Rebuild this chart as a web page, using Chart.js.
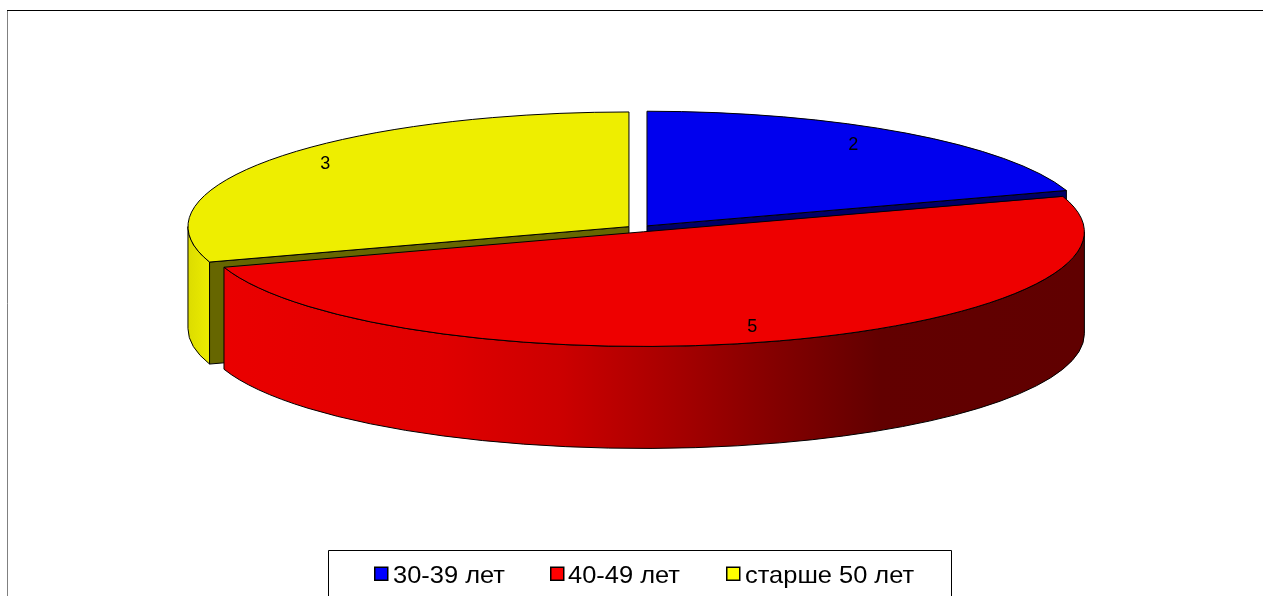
<!DOCTYPE html>
<html><head><meta charset="utf-8">
<style>html,body{margin:0;padding:0;background:#fff;overflow:hidden}canvas{display:block}</style>
<script src="https://cdn.jsdelivr.net/npm/chart.js@4"></script>
</head><body><canvas id="c" width="1263" height="596"></canvas>
<script>
const categories = ['30-39 лет', '40-49 лет', 'старше 50 лет'];
const values = [2, 5, 3];
const topColors = ['#0000EE', '#EE0000', '#EEEE00'];
const legendColors = ['#0000FF', '#FF0000', '#FFFF00'];
const innerWallColors = ['#000066', '#660000', '#666600'];
const explode = [51.6, 51.6, 51.6];
const SQUASH = 0.26, DEPTH = 102, FONT = 'Liberation Sans, Arial, sans-serif';
const labelRadius = [0.845, 0.87, 0.88];
const labelNudgeDeg = [-2.4, 1.5, 2.5];
const legendSwatchX = [374, 550, 726];
const legendTextX = [393, 568, 745];

function radiusGrowth(arc, i) {
  const circ = arc.endAngle - arc.startAngle;
  return explode[i] / 4 * (1 - Math.sin(Math.min(Math.PI, circ)));
}
function geom(arc, i) {
  const half = (arc.startAngle + arc.endAngle) / 2;
  const off = explode[i] / 4;
  const r = arc.outerRadius + radiusGrowth(arc, i);
  return { half, cx: arc.x + Math.cos(half) * off, cy: arc.y + (Math.sin(half) * off) * SQUASH,
           rx: r, ry: r * SQUASH, a1: arc.startAngle, a2: arc.endAngle };
}
function radialWall(ctx, g, a, color) {
  const x = g.cx + g.rx * Math.cos(a), y = g.cy + g.ry * Math.sin(a);
  ctx.beginPath();
  ctx.moveTo(g.cx, g.cy); ctx.lineTo(x, y); ctx.lineTo(x, y + DEPTH); ctx.lineTo(g.cx, g.cy + DEPTH); ctx.closePath();
  ctx.fillStyle = color; ctx.fill(); ctx.strokeStyle = '#000'; ctx.lineWidth = 1; ctx.stroke();
}
function outerWall(ctx, g, fill) {
  const a1 = Math.max(g.a1, 0), a2 = Math.min(g.a2, Math.PI);
  if (a2 <= a1) return;
  ctx.beginPath();
  ctx.ellipse(g.cx, g.cy, g.rx, g.ry, 0, a1, a2);
  ctx.ellipse(g.cx, g.cy + DEPTH, g.rx, g.ry, 0, a2, a1, true);
  ctx.closePath();
  ctx.fillStyle = fill; ctx.fill(); ctx.strokeStyle = '#000'; ctx.lineWidth = 1; ctx.stroke();
}
const pie3d = {
  id: 'pie3d',
  afterDatasetsUpdate(chart) {
    chart.getDatasetMeta(0).data.forEach((arc, i) => { arc.outerRadius -= radiusGrowth(arc, i); });
  },
  beforeDatasetsDraw(chart) {
    const ctx = chart.ctx, arcs = chart.getDatasetMeta(0).data;
    const [gb, gr, gy] = arcs.map(geom);
    ctx.save();
    const yg = ctx.createLinearGradient(188, 0, 212, 0);
    yg.addColorStop(0, '#DCDC00'); yg.addColorStop(1, '#EEEE00');
    outerWall(ctx, gy, yg);
    radialWall(ctx, gy, gy.a1, innerWallColors[2]);
    radialWall(ctx, gb, gb.a2, innerWallColors[0]);
    const rg = ctx.createLinearGradient(224, 0, 1083, 0);
    [[224,'#EA0000'],[440,'#E00000'],[560,'#CC0000'],[670,'#A80000'],[780,'#820000'],[880,'#620000'],[1083,'#600000']]
      .forEach(([x, c]) => rg.addColorStop((x - 224) / 859, c));
    outerWall(ctx, gr, rg);
    ctx.restore();
    ctx.save();
    const cy = arcs[0].y;
    ctx.translate(0, cy); ctx.scale(1, SQUASH); ctx.translate(0, -cy);
  },
  afterDatasetsDraw(chart) {
    const ctx = chart.ctx, arcs = chart.getDatasetMeta(0).data;
    ctx.restore();
    ctx.save();
    const gs = arcs.map(geom);
    gs.forEach(g => {
      ctx.beginPath(); ctx.moveTo(g.cx, g.cy);
      ctx.ellipse(g.cx, g.cy, g.rx, g.ry, 0, g.a1, g.a2);
      ctx.closePath();
      ctx.strokeStyle = '#000'; ctx.lineWidth = 1; ctx.stroke();
    });
    ctx.fillStyle = '#000'; ctx.font = '18px ' + FONT;
    ctx.textAlign = 'center'; ctx.textBaseline = 'middle';
    gs.forEach((g, i) => {
      const a = g.half + labelNudgeDeg[i] * Math.PI / 180;
      ctx.fillText(String(values[i]), g.cx + g.rx * labelRadius[i] * Math.cos(a), g.cy + g.ry * labelRadius[i] * Math.sin(a));
    });
    ctx.restore();
  },
  afterDraw(chart) {
    const ctx = chart.ctx;
    ctx.save();
    ctx.lineWidth = 1;
    ctx.strokeStyle = '#808080';
    ctx.beginPath(); ctx.moveTo(7.5, 596); ctx.lineTo(7.5, 10.5); ctx.stroke();
    ctx.strokeStyle = '#000';
    ctx.beginPath(); ctx.moveTo(7, 10.5); ctx.lineTo(1263, 10.5); ctx.stroke();
    ctx.fillStyle = '#fff'; ctx.fillRect(328.5, 550.5, 623, 50);
    ctx.beginPath(); ctx.moveTo(328.5, 600); ctx.lineTo(328.5, 550.5); ctx.lineTo(951.5, 550.5); ctx.lineTo(951.5, 600); ctx.stroke();
    ctx.font = '24px ' + FONT; ctx.textAlign = 'left'; ctx.textBaseline = 'alphabetic';
    categories.forEach((name, i) => {
      ctx.fillStyle = legendColors[i]; ctx.lineWidth = 1.5;
      ctx.fillRect(legendSwatchX[i] + .75, 567.25, 13, 13);
      ctx.strokeRect(legendSwatchX[i] + .75, 567.25, 13, 13);
      ctx.fillStyle = '#000';
      ctx.save();
      ctx.translate(legendTextX[i], 583); ctx.scale(1.06, 1);
      ctx.fillText(name, 0, 0);
      ctx.restore();
    });
    ctx.restore();
  }
};
new Chart(document.getElementById('c'), {
  type: 'pie',
  data: { labels: categories, datasets: [{ data: values, backgroundColor: topColors, borderWidth: 0, offset: explode, clip: false }] },
  options: {
    responsive: false, animation: false, radius: 441,
    layout: { padding: { left: 15.8, right: 0, top: 0, bottom: 138.8 } },
    plugins: { legend: { display: false }, tooltip: { enabled: false } }
  },
  plugins: [pie3d]
});
</script></body></html>
